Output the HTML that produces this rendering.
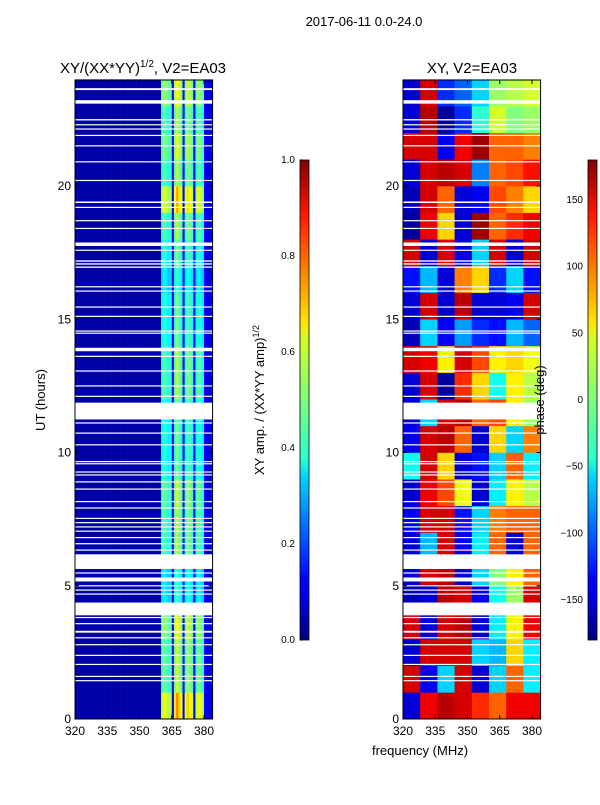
<!DOCTYPE html>
<html><head><meta charset="utf-8"><style>
html,body{margin:0;padding:0;background:#fff;}
svg text{font-family:"Liberation Sans",sans-serif;fill:#000;}
</style></head><body>
<svg id="fig" width="600" height="800" viewBox="0 0 600 800" xmlns="http://www.w3.org/2000/svg">
<defs>
<linearGradient id="jet" x1="0" y1="1" x2="0" y2="0">
<stop offset="0" stop-color="#00007f"/><stop offset="0.11" stop-color="#0000ff"/><stop offset="0.125" stop-color="#0000ff"/>
<stop offset="0.34" stop-color="#00d4ff"/><stop offset="0.375" stop-color="#29ffce"/><stop offset="0.5" stop-color="#7dff7a"/>
<stop offset="0.625" stop-color="#ceff29"/><stop offset="0.66" stop-color="#ffe500"/><stop offset="0.89" stop-color="#ff1400"/>
<stop offset="1" stop-color="#7f0000"/></linearGradient>
</defs>
<text x="364" y="26" font-size="13" text-anchor="middle">2017-06-11 0.0-24.0</text>
<text x="143" y="73" font-size="15" text-anchor="middle">XY/(XX*YY)<tspan font-size="10" dy="-6">1/2</tspan><tspan dy="6">, V2=EA03</tspan></text>
<text x="472" y="73" font-size="15" text-anchor="middle">XY, V2=EA03</text>
<g id="amp"></g>
<g id="phs"></g>
<g id="axes"></g>
<rect x="300" y="160" width="9" height="480" fill="url(#jet)" stroke="#000" stroke-width="0.8"/>
<rect x="588" y="160" width="9" height="480" fill="url(#jet)" stroke="#000" stroke-width="0.8"/>
<text transform="translate(45,400) rotate(-90)" font-size="13" text-anchor="middle">UT (hours)</text>
<text x="420" y="755" font-size="13" text-anchor="middle">frequency (MHz)</text>
<text transform="translate(264,400) rotate(-90)" font-size="13" text-anchor="middle">XY amp. / (XX*YY amp)<tspan font-size="9" dy="-5">1/2</tspan></text>
<text transform="translate(544,400) rotate(-90)" font-size="13" text-anchor="middle">phase (deg)</text>
</svg>
<script>
const freqBins=[];for(let f=320;f<384;f++)freqBins.push(f);
const ampProfile=[0.04,0.04,0.04,0.04,0.04,0.04,0.04,0.04,0.04,0.04,0.04,0.04,0.04,0.04,0.04,0.04,0.04,0.04,0.04,0.04,0.04,0.04,0.04,0.04,0.04,0.04,0.04,0.04,0.04,0.04,0.04,0.04,0.04,0.04,0.04,0.04,0.04,0.04,0.04,0.04,0.42,0.46,0.44,0.4,0.42,0.13,0.48,0.55,0.5,0.46,0.13,0.45,0.5,0.47,0.43,0.13,0.42,0.47,0.44,0.4,0.12,0.1,0.1,0.1];
const hourGain=[1.35,1.05,1.05,1.15,0.8,0.8,1.0,1.0,1.05,0.9,0.9,0.9,1.0,1.0,0.9,0.9,0.8,0.9,1.0,1.3,1.0,1.1,1.0,1.15];
const phaseCols=[320,328,336,344,352,360,368,376];
const phaseGrid=[
[-150,140,160,150,120,100,140,140],
[150,-140,-60,150,-150,-60,100,-50],
[-150,150,150,150,-60,-70,60,-50],
[150,-150,150,160,-150,-50,50,140],
[-160,-150,160,150,-140,-40,10,150],
[-150,150,160,-150,-60,0,50,100],
[-150,-70,150,-140,-50,100,-150,100],
[-140,150,150,-130,-60,90,100,100],
[-150,140,110,40,-150,-50,50,20],
[-40,150,60,-150,-130,-60,100,-50],
[-140,150,160,100,-150,60,-60,90],
[-150,-60,150,160,100,110,50,10],
[-150,150,-170,120,60,-40,50,20],
[150,140,50,150,110,50,60,40],
[-160,-60,-140,-80,-120,-130,-70,-100],
[-150,150,-150,160,-150,-150,-140,150],
[-130,-70,-150,90,60,-120,-60,-130],
[150,-150,150,-140,-60,150,-150,150],
[-170,140,60,-150,170,100,120,140],
[-160,150,100,-150,-140,110,90,60],
[-150,150,160,150,-90,100,110,130],
[150,150,-140,140,170,100,100,90],
[-150,160,-170,-120,-30,30,0,10],
[-150,150,-120,-100,-60,10,20,30]];
const flagged=[[23.6,23.67],[23.09,23.22],[22.46,22.51],[22.28,22.32],[22.12,22.16],[21.88,21.92],[21.49,21.53],[20.89,20.93],[20.19,20.23],[19.36,19.42],[19.18,19.22],[18.68,18.72],[18.39,18.43],[17.75,17.88],[17.57,17.61],[16.93,16.98],[17.05,17.1],[17.16,17.21],[16.2,16.24],[16.04,16.08],[15.44,15.48],[15.09,15.13],[14.54,14.58],[14.46,14.5],[13.8,13.93],[13.59,13.63],[13.04,13.08],[12.48,12.52],[12.09,12.13],[11.24,11.87],[11.09,11.13],[10.71,10.75],[10.27,10.31],[9.64,9.68],[9.56,9.6],[9.25,9.29],[9.14,9.18],[8.88,8.92],[8.61,8.65],[8.14,8.18],[7.9,7.94],[7.51,7.55],[7.35,7.39],[7.19,7.23],[7.03,7.07],[6.79,6.83],[6.56,6.6],[6.32,6.36],[5.63,6.18],[5.46,5.5],[5.16,5.31],[4.98,5.02],[4.82,4.86],[4.67,4.71],[3.89,4.37],[3.79,3.83],[3.56,3.6],[3.24,3.31],[3.03,3.07],[2.77,2.81],[2.37,2.41],[2.03,2.07],[1.58,1.62],[1.42,1.46]];
const xTicks=[320,335,350,365,380];
const yTicks=[0,5,10,15,20];
const ampTicks=[0.0,0.2,0.4,0.6,0.8,1.0];
const phaseTicks=[-150,-100,-50,0,50,100,150];

const NS="http://www.w3.org/2000/svg";
const Y0=719,PXH=26.65,PXM=2.15,TOP=80;
const yS=h=>Y0-h*PXH;
const xL=f=>75+(f-320)*PXM, xR=f=>403+(f-320)*PXM;
function jet(v){v=Math.max(0,Math.min(1,v));
 const c=t=>Math.round(255*Math.max(0,Math.min(1,t)));
 const r=c(Math.min(4*v-1.5,-4*v+4.5)),g=c(Math.min(4*v-0.5,-4*v+3.5)),b=c(Math.min(4*v+0.5,-4*v+2.5));
 return `rgb(${r},${g},${b})`;}
function mk(tag,at,parent){const e=document.createElementNS(NS,tag);for(const k in at)e.setAttribute(k,at[k]);parent.appendChild(e);return e;}
const amp=document.getElementById('amp'),phs=document.getElementById('phs'),axes=document.getElementById('axes');
hourGain.forEach((g,h)=>{ampProfile.forEach((a,i)=>{
 const v=a>0.2?a*g:a;const f=freqBins[i];
 const r=mk('rect',{x:xL(f),y:yS(Math.min(24,h+1)),width:PXM+0.3,height:PXH+0.3,fill:jet(v)},amp);
 
 
});});
phaseGrid.forEach((row,h)=>{row.forEach((p,j)=>{
 const f0=phaseCols[j],f1=j<phaseCols.length-1?phaseCols[j+1]:384;
 const r=mk('rect',{x:xR(f0),y:yS(h+1),width:(f1-f0)*PXM+0.3,height:PXH+0.3,fill:jet((p+180)/360)},phs);
 
 
});});
[[amp,75],[phs,403]].forEach(([g,x0])=>{flagged.forEach(([a,b])=>{
 const r=mk('rect',{x:x0,y:yS(b),width:137.6,height:Math.max(1.2,(b-a)*PXH),fill:'#fff'},g);
 
 
});});
[[75,xL],[403,xR]].forEach(([x0,xs],k)=>{
 const fr=mk('rect',{x:x0,y:TOP,width:137.6,height:Y0-TOP,fill:'none',stroke:'#000','stroke-width':1},axes);
 
 
 xTicks.forEach(t=>{const x=xs(t);
  mk('line',{x1:x,x2:x,y1:Y0,y2:Y0-4,stroke:'#000'},axes);mk('line',{x1:x,x2:x,y1:TOP,y2:TOP+4,stroke:'#000'},axes);
  const tx=mk('text',{x:x,y:Y0+16,'font-size':12,'text-anchor':'middle'},axes);tx.textContent=t;
  
  });
 yTicks.forEach(t=>{const y=yS(t);
  mk('line',{x1:x0,x2:x0+4,y1:y,y2:y,stroke:'#000'},axes);mk('line',{x1:x0+133.6,x2:x0+137.6,y1:y,y2:y,stroke:'#000'},axes);
  const tx=mk('text',{x:x0-4,y:y+4,'font-size':12,'text-anchor':'end'},axes);tx.textContent=t;
  
  });
});
ampTicks.forEach(t=>{const y=640-t*480;
 mk('line',{x1:300,x2:303,y1:y,y2:y,stroke:'#000'},axes);
 const tx=mk('text',{x:295,y:y+3,'font-size':10,'text-anchor':'end'},axes);tx.textContent=t.toFixed(1);
 
 });
phaseTicks.forEach(t=>{const y=400-t*480/360;
 mk('line',{x1:588,x2:591,y1:y,y2:y,stroke:'#000'},axes);
 const tx=mk('text',{x:583,y:y+3,'font-size':10,'text-anchor':'end'},axes);tx.textContent=t<0?'\u2212'+(-t):t;
 
 });
</script>
</body></html>
